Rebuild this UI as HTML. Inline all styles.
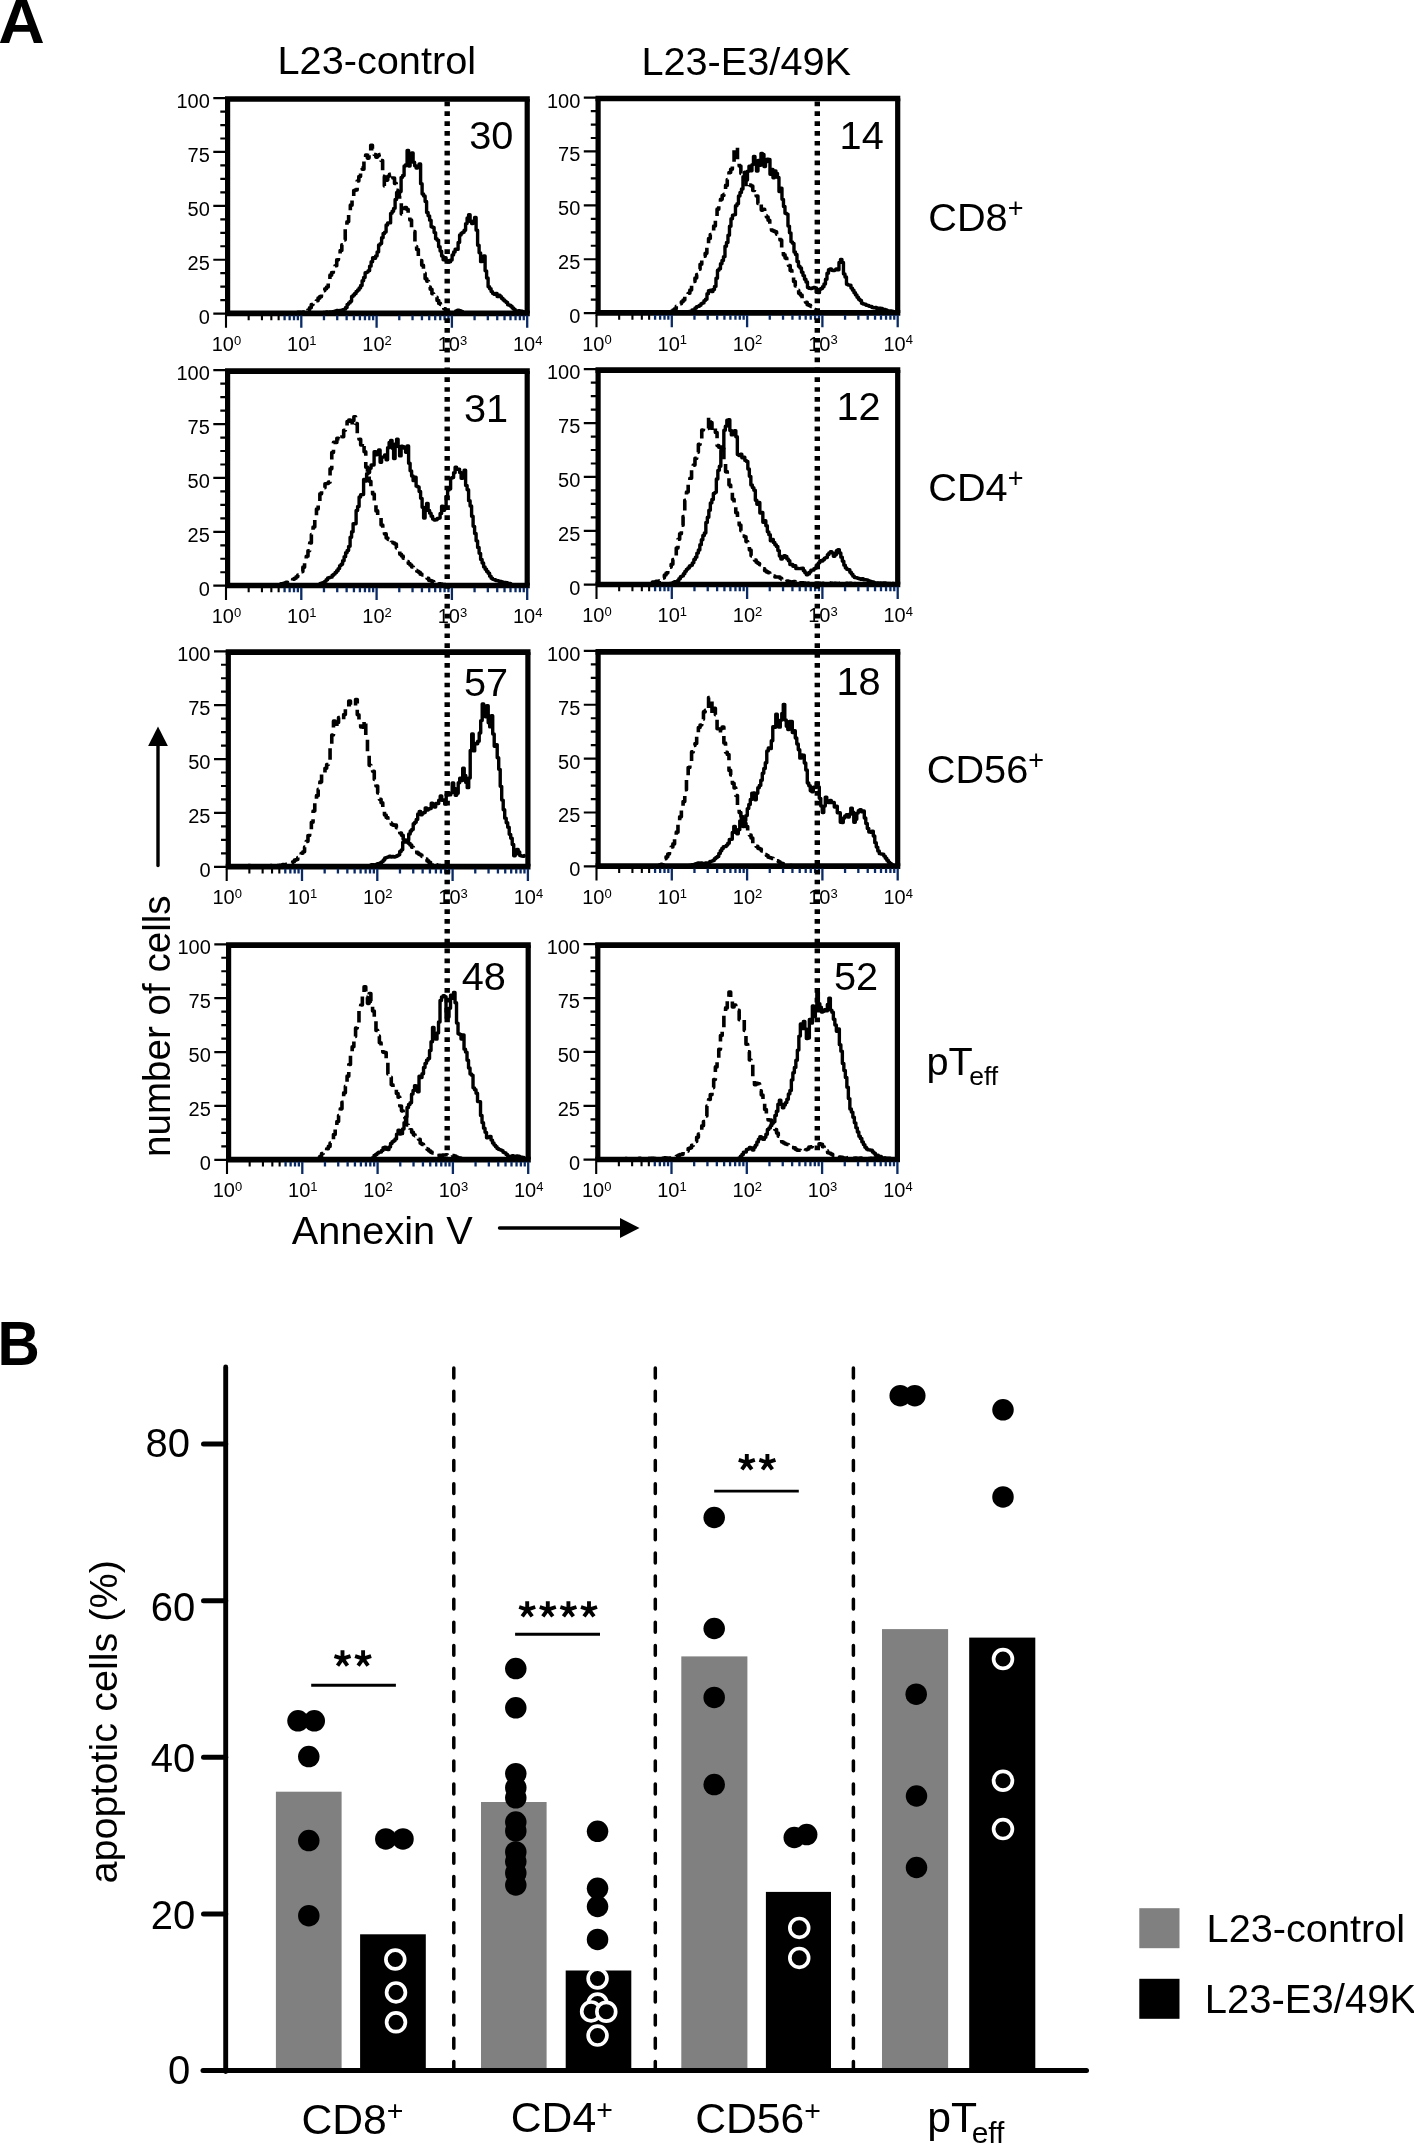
<!DOCTYPE html>
<html><head><meta charset="utf-8"><title>Figure</title>
<style>
html,body{margin:0;padding:0;background:#fff;}
body{width:1414px;height:2144px;overflow:hidden;font-family:"Liberation Sans", sans-serif;}
svg{display:block;will-change:transform;}
</style></head><body>
<svg width="1414" height="2144" viewBox="0 0 1414 2144" font-family='"Liberation Sans", sans-serif' fill="#000">
<rect width="1414" height="2144" fill="#fff"/>
<text transform="translate(-1.7,42.9) scale(1.11,1.085)" font-size="58" font-weight="bold">A</text>
<text transform="translate(-2.5,1365) scale(1.01,1.07)" font-size="58" font-weight="bold">B</text>
<text x="277.5" y="73.7" font-size="39.7">L23-control</text>
<text x="641.4" y="74.5" font-size="39.7">L23-E3/49K</text>
<path d="M225 99H529.8M225 313.4H529.8" fill="none" stroke="#000" stroke-width="5.7"/>
<path d="M227.6 99V313.4M527.2 99V313.4" fill="none" stroke="#000" stroke-width="5.2"/>
<path d="M213.3 98.1h13M220.3 111.57h6M220.3 125.04h6M220.3 138.51h6M213.3 151.97h13M220.3 165.44h6M220.3 178.91h6M220.3 192.38h6M213.3 205.85h13M220.3 219.32h6M220.3 232.79h6M220.3 246.26h6M213.3 259.73h13M220.3 273.19h6M220.3 286.66h6M220.3 300.13h6M213.3 313.6h13" stroke="#000" stroke-width="2.2" fill="none"/>
<text x="209.8" y="108" font-size="20" text-anchor="end">100</text>
<text x="209.8" y="161.88" font-size="20" text-anchor="end">75</text>
<text x="209.8" y="215.75" font-size="20" text-anchor="end">50</text>
<text x="209.8" y="269.62" font-size="20" text-anchor="end">25</text>
<text x="209.8" y="323.5" font-size="20" text-anchor="end">0</text>
<path d="M226 315.6v12.2M248.67 315.6v4.6M261.93 315.6v4.6M271.34 315.6v4.6M278.63 315.6v4.6" stroke="#000" stroke-width="2.1" fill="none"/>
<path d="M284.59 315.6v4.6M289.64 315.6v4.6M294 315.6v4.6M297.85 315.6v4.6M301.3 315.6v12.2M323.97 315.6v4.6M337.23 315.6v4.6M346.64 315.6v4.6M353.93 315.6v4.6M359.89 315.6v4.6M364.94 315.6v4.6M369.3 315.6v4.6M373.15 315.6v4.6M376.6 315.6v12.2M399.27 315.6v4.6M412.53 315.6v4.6M421.94 315.6v4.6M429.23 315.6v4.6M435.19 315.6v4.6M440.24 315.6v4.6M444.6 315.6v4.6M448.45 315.6v4.6M451.9 315.6v12.2M474.57 315.6v4.6M487.83 315.6v4.6M497.24 315.6v4.6M504.53 315.6v4.6M510.49 315.6v4.6M515.54 315.6v4.6M519.9 315.6v4.6M523.75 315.6v4.6M527.2 315.6v12.2" stroke="#0a2a66" stroke-width="2.3" fill="none"/>
<text x="226.5" y="351.1" font-size="20" text-anchor="middle">10<tspan font-size="13" dy="-6.3">0</tspan></text>
<text x="301.8" y="351.1" font-size="20" text-anchor="middle">10<tspan font-size="13" dy="-6.3">1</tspan></text>
<text x="377.1" y="351.1" font-size="20" text-anchor="middle">10<tspan font-size="13" dy="-6.3">2</tspan></text>
<text x="452.4" y="351.1" font-size="20" text-anchor="middle">10<tspan font-size="13" dy="-6.3">3</tspan></text>
<text x="527.7" y="351.1" font-size="20" text-anchor="middle">10<tspan font-size="13" dy="-6.3">4</tspan></text>
<path d="M278.93 313.4H280.63V313.25H282.33V313.38H284.03V313.4H285.73V313.06H287.43V313.19H289.13V313.14H290.83V312.76H292.53V312.52H294.23V312.8H295.93V312.9H297.63V312.35H299.33V312.32H301.03V312.73H302.73V312.03H304.43V311.92H306.13V312.61H307.83V309.94H309.53V307.68H311.23V304.63H312.93V303.43H314.63V302.59H316.33V300.8H318.03V298.15H319.73V296.65H321.43V294.2H323.13V290.61H324.83V288.82H326.53V286.95H328.23V280.14H329.93V275.16H331.63V272.5H333.33V268.04H335.03V265.77H336.73V259.83H338.43V255.35H340.13V250.43H341.83V244.7H343.53V239.87H345.23V228.11H346.93V221.68H348.63V211.94H350.33V205.14H352.03V197.27H353.73V190.55H355.43V189.89H357.13V180.99H358.83V176.43H360.53V167.96H362.23V169.23H363.93V159.97H365.63V155H367.33V158.12H369.03V155.35H370.73V145.24H372.43V148.76H374.13V154.54H375.83V157.08H377.53V155.59H379.23V154.6H380.93V160.44H382.63V176.3H384.33V185.99H386.03V180.09H387.73V176.25H389.43V174.39H391.13V173.12H392.83V177.95H394.53V183.38H396.23V190.37H397.93V196.36H399.63V201.54H401.33V213.95H403.03V211.11H404.73V207.45H406.43V209.25H408.13V215.27H409.83V219.96H411.53V228.97H413.23V231.45H414.93V246.48H416.63V249.54H418.33V256.32H420.03V260.47H421.73V265.22H423.43V273.31H425.13V278.78H426.83V281.25H428.53V287.01H430.23V289.27H431.93V293.82H433.63V295.41H435.33V297.34H437.03V300.57H438.73V303.41H440.43V304.53H442.13V306.63H443.83V308.84H445.53V310.19H447.23V311.73H448.93V313.09H450.63V312.85H452.33V312.49H454.03V312.17H455.73V311.13H457.43V310.38H459.13V310.76H460.83V311.44H462.53V312.72H464.23V313.4H465.93V313.4H467.63V313.4H469.33V313.4H471.03V313.4H472.73V313.4H474.43V313.4H476.13V313.4H477.83V313.4H479.53V313.37H481.23V313.34H482.93V313.38H484.63V313.4H486.33V313.12H488.03V313.4H489.73V313.4H491.43V313.4H493.13V313.4H494.83V313.4H496.53V313.4H498.23V313.4H499.93V313.4H501.63V313.04H503.33V313.4H505.03V313.4H506.73V313.4H508.43V313.4H510.13V313.4H511.83V313.4H513.53V313.4H515.23V313.4H516.93V313.4H518.63V313.4H520.33V313.4H522.03V313.4H523.73V313.4" fill="none" stroke="#000" stroke-width="3.6" stroke-linejoin="round" stroke-dasharray="11.5 6.3"/>
<path d="M315.6 313.4H317.1V313.4H318.6V313.4H320.1V312.72H321.6V312.87H323.1V312.4H324.6V312.57H326.1V311.92H327.6V312.31H329.1V311.97H330.6V312.26H332.1V311.58H333.6V311.42H335.1V310.84H336.6V310.52H338.1V311.02H339.6V310.34H341.1V310.26H342.6V309.64H344.1V309.17H345.6V307.52H347.1V304.36H348.6V302.88H350.1V301.34H351.6V296.41H353.1V294.93H354.6V293.45H356.1V291.36H357.6V290.03H359.1V287.88H360.6V285.44H362.1V280.77H363.6V277.47H365.1V272.73H366.6V272.11H368.1V270.66H369.6V266.15H371.1V261.69H372.6V257.63H374.1V258.19H375.6V255.92H377.1V251.9H378.6V244.97H380.1V243.6H381.6V237.78H383.1V233.55H384.6V232.09H386.1V224.96H387.6V222.88H389.1V222.92H390.6V213.33H392.1V211.24H393.6V208.36H395.1V199.52H396.6V192.41H398.1V194.07H399.6V191.55H401.1V177.37H402.6V175.53H404.1V166.02H405.6V164.59H407.1V150.53H408.6V166.11H410.1V156.06H411.6V152.95H413.1V162.21H414.6V165.76H416.1V167.93H417.6V166.43H419.1V163.93H420.6V183.67H422.1V194.01H423.6V195.93H425.1V201.55H426.6V212.5H428.1V215.86H429.6V220.17H431.1V226.76H432.6V227.38H434.1V232.61H435.6V238.82H437.1V240.32H438.6V246.69H440.1V251.08H441.6V255.96H443.1V259.78H444.6V257.82H446.1V260.98H447.6V262.13H449.1V261.72H450.6V260.03H452.1V254.92H453.6V252.02H455.1V249.14H456.6V249.42H458.1V242.4H459.6V234.96H461.1V233.1H462.6V232.28H464.1V230.19H465.6V223.61H467.1V218.02H468.6V214.72H470.1V221.51H471.6V223.49H473.1V221.06H474.6V217.39H476.1V230.17H477.6V245.26H479.1V252.87H480.6V261.66H482.1V260.36H483.6V255.95H485.1V270.83H486.6V277.96H488.1V286.81H489.6V288.82H491.1V291.59H492.6V293.4H494.1V294.38H495.6V293.51H497.1V296.62H498.6V295.31H500.1V296.79H501.6V298.43H503.1V300.07H504.6V301.17H506.1V302.43H507.6V304.72H509.1V305.24H510.6V306.2H512.1V308.04H513.6V309.21H515.1V310.92H516.6V310.87H518.1V310.7H519.6V310.98H521.1V311.28H522.6V311.72H524.1V311.88" fill="none" stroke="#000" stroke-width="3.4" stroke-linejoin="round" stroke-linecap="round"/>
<text x="469.3" y="148.5" font-size="39.7">30</text>
<path d="M595.5 98.5H900.3M595.5 312.9H900.3" fill="none" stroke="#000" stroke-width="5.7"/>
<path d="M598.1 98.5V312.9M897.7 98.5V312.9" fill="none" stroke="#000" stroke-width="5.2"/>
<path d="M583.8 97.6h13M590.8 111.07h6M590.8 124.54h6M590.8 138.01h6M583.8 151.47h13M590.8 164.94h6M590.8 178.41h6M590.8 191.88h6M583.8 205.35h13M590.8 218.82h6M590.8 232.29h6M590.8 245.76h6M583.8 259.23h13M590.8 272.69h6M590.8 286.16h6M590.8 299.63h6M583.8 313.1h13" stroke="#000" stroke-width="2.2" fill="none"/>
<text x="580.3" y="107.5" font-size="20" text-anchor="end">100</text>
<text x="580.3" y="161.38" font-size="20" text-anchor="end">75</text>
<text x="580.3" y="215.25" font-size="20" text-anchor="end">50</text>
<text x="580.3" y="269.12" font-size="20" text-anchor="end">25</text>
<text x="580.3" y="323" font-size="20" text-anchor="end">0</text>
<path d="M596.5 315.1v12.2M619.17 315.1v4.6M632.43 315.1v4.6M641.84 315.1v4.6M649.13 315.1v4.6" stroke="#000" stroke-width="2.1" fill="none"/>
<path d="M655.09 315.1v4.6M660.14 315.1v4.6M664.5 315.1v4.6M668.35 315.1v4.6M671.8 315.1v12.2M694.47 315.1v4.6M707.73 315.1v4.6M717.14 315.1v4.6M724.43 315.1v4.6M730.39 315.1v4.6M735.44 315.1v4.6M739.8 315.1v4.6M743.65 315.1v4.6M747.1 315.1v12.2M769.77 315.1v4.6M783.03 315.1v4.6M792.44 315.1v4.6M799.73 315.1v4.6M805.69 315.1v4.6M810.74 315.1v4.6M815.1 315.1v4.6M818.95 315.1v4.6M822.4 315.1v12.2M845.07 315.1v4.6M858.33 315.1v4.6M867.74 315.1v4.6M875.03 315.1v4.6M880.99 315.1v4.6M886.04 315.1v4.6M890.4 315.1v4.6M894.25 315.1v4.6M897.7 315.1v12.2" stroke="#0a2a66" stroke-width="2.3" fill="none"/>
<text x="597" y="350.6" font-size="20" text-anchor="middle">10<tspan font-size="13" dy="-6.3">0</tspan></text>
<text x="672.3" y="350.6" font-size="20" text-anchor="middle">10<tspan font-size="13" dy="-6.3">1</tspan></text>
<text x="747.6" y="350.6" font-size="20" text-anchor="middle">10<tspan font-size="13" dy="-6.3">2</tspan></text>
<text x="822.9" y="350.6" font-size="20" text-anchor="middle">10<tspan font-size="13" dy="-6.3">3</tspan></text>
<text x="898.2" y="350.6" font-size="20" text-anchor="middle">10<tspan font-size="13" dy="-6.3">4</tspan></text>
<path d="M601.47 312.9H603.17V312.9H604.87V312.9H606.57V312.9H608.27V312.83H609.97V312.9H611.67V312.84H613.37V312.74H615.07V312.9H616.77V312.9H618.47V312.9H620.17V312.87H621.87V312.9H623.57V312.9H625.27V312.72H626.97V312.9H628.67V312.9H630.37V312.9H632.07V312.9H633.77V312.9H635.47V312.9H637.17V312.9H638.87V312.9H640.57V312.9H642.27V312.9H643.97V312.9H645.67V312.9H647.37V312.9H649.07V312.83H650.77V312.9H652.47V312.9H654.17V312.9H655.87V312.9H657.57V312.9H659.27V312.9H660.97V312.9H662.67V312.9H664.37V312.83H666.07V312.9H667.77V312.9H669.47V312.9H671.17V311.23H672.87V310.16H674.57V308.87H676.27V306.27H677.97V304.27H679.67V303.79H681.37V301.79H683.07V300H684.77V296.81H686.47V294.94H688.17V293.28H689.87V290.05H691.57V284.99H693.27V281.44H694.97V278.06H696.67V274.43H698.37V269.28H700.07V264.32H701.77V257.94H703.47V256.16H705.17V253.37H706.87V246.66H708.57V238.55H710.27V234.45H711.97V233.12H713.67V226.07H715.37V219.34H717.07V209.15H718.77V204.92H720.47V199.34H722.17V195.57H723.87V194.22H725.57V185.41H727.27V179.5H728.97V172.53H730.67V169.21H732.37V166.02H734.07V147.6H735.77V147.66H737.47V160.63H739.17V165.94H740.87V173.55H742.57V173.85H744.27V173.92H745.97V187.22H747.67V184.94H749.37V185.01H751.07V186.05H752.77V190.56H754.47V189.96H756.17V196.06H757.87V203.57H759.57V202.24H761.27V210.11H762.97V209.32H764.67V215.66H766.37V217.01H768.07V220.31H769.77V224.19H771.47V230.33H773.17V231.12H774.87V231.86H776.57V234.13H778.27V234.68H779.97V240.04H781.67V247.78H783.37V254.89H785.07V258.08H786.77V262.52H788.47V265.48H790.17V270.42H791.87V277.23H793.57V281.44H795.27V285.98H796.97V290.34H798.67V293.33H800.37V295.1H802.07V299.07H803.77V299.79H805.47V302.21H807.17V304.66H808.87V305.4H810.57V306.36H812.27V308.03H813.97V309.47H815.67V310.67H817.37V311.2H819.07V312.44H820.77V312.9H822.47V312.9H824.17V312.9H825.87V312.9H827.57V312.9H829.27V312.9H830.97V312.9H832.67V312.9H834.37V312.83H836.07V312.9H837.77V312.9H839.47V312.9H841.17V312.9H842.87V312.9H844.57V312.9H846.27V312.9H847.97V312.9H849.67V312.9H851.37V312.9H853.07V312.74H854.77V312.82H856.47V312.9H858.17V312.9H859.87V312.9H861.57V312.9H863.27V312.9H864.97V312.9H866.67V312.9H868.37V312.82H870.07V312.9H871.77V312.9H873.47V312.9H875.17V312.81H876.87V312.9H878.57V312.9H880.27V312.84H881.97V312.9H883.67V312.9H885.37V312.9H887.07V312.9H888.77V312.9H890.47V312.9H892.17V312.9H893.87V312.9" fill="none" stroke="#000" stroke-width="3.6" stroke-linejoin="round" stroke-dasharray="11.5 6.3"/>
<path d="M676.97 312.9H678.47V312.9H679.97V312.9H681.47V312.9H682.97V312.74H684.47V312.9H685.97V312.62H687.47V312.5H688.97V311.45H690.47V311.14H691.97V310.01H693.47V309.84H694.97V308.07H696.47V306.64H697.97V306.22H699.47V305.25H700.97V303.61H702.47V302.88H703.97V300.6H705.47V299.3H706.97V293.64H708.47V290.6H709.97V290.18H711.47V291.57H712.97V289.52H714.47V286.41H715.97V278.3H717.47V270.32H718.97V268.68H720.47V263.73H721.97V260.56H723.47V256.66H724.97V246.27H726.47V242.5H727.97V235.26H729.47V226.28H730.97V218.71H732.47V215.16H733.97V214.63H735.47V205.78H736.97V203.74H738.47V196.01H739.97V192.51H741.47V188.99H742.97V176.7H744.47V172.09H745.97V179.99H747.47V171.29H748.97V166.29H750.47V170.69H751.97V164.61H753.47V156.42H754.97V162.15H756.47V171.04H757.97V160.55H759.47V165.28H760.97V153.37H762.47V154.43H763.97V166.58H765.47V161.68H766.97V159.26H768.47V159.4H769.97V174.24H771.47V169.54H772.97V177.87H774.47V170.88H775.97V173.37H777.47V177.46H778.97V191.48H780.47V188.25H781.97V199.37H783.47V206.55H784.97V213.23H786.47V214.08H787.97V226.1H789.47V232.86H790.97V241.87H792.47V243.36H793.97V252.03H795.47V254.52H796.97V261.56H798.47V266.29H799.97V267.94H801.47V272.26H802.97V275.59H804.47V279.19H805.97V282.07H807.47V287.55H808.97V288.4H810.47V288.5H811.97V287.93H813.47V287.52H814.97V287.87H816.47V292.4H817.97V292.66H819.47V289.21H820.97V288.53H822.47V286.74H823.97V283.97H825.47V279.25H826.97V273.31H828.47V269.71H829.97V268.94H831.47V270.24H832.97V270.63H834.47V269.88H835.97V268.98H837.47V269.71H838.97V262.42H840.47V259.48H841.97V262.57H843.47V273.89H844.97V276.96H846.47V284.26H847.97V285.08H849.47V285.27H850.97V288.12H852.47V290.14H853.97V292.74H855.47V294.91H856.97V297.32H858.47V299.26H859.97V300.49H861.47V303.29H862.97V304.05H864.47V304.32H865.97V305.24H867.47V305.53H868.97V306.34H870.47V306.44H871.97V307.48H873.47V307.75H874.97V307.42H876.47V308.43H877.97V308.16H879.47V308.18H880.97V308.45H882.47V309.33H883.97V309.53H885.47V310.02H886.97V311.25H888.47V310.98H889.97V311.03H891.47V311.12H892.97V311.69H894.47V311.99" fill="none" stroke="#000" stroke-width="3.4" stroke-linejoin="round" stroke-linecap="round"/>
<text x="839.6" y="148.5" font-size="39.7">14</text>
<path d="M225 371.1H529.8M225 585.5H529.8" fill="none" stroke="#000" stroke-width="5.7"/>
<path d="M227.6 371.1V585.5M527.2 371.1V585.5" fill="none" stroke="#000" stroke-width="5.2"/>
<path d="M213.3 370.2h13M220.3 383.67h6M220.3 397.14h6M220.3 410.61h6M213.3 424.07h13M220.3 437.54h6M220.3 451.01h6M220.3 464.48h6M213.3 477.95h13M220.3 491.42h6M220.3 504.89h6M220.3 518.36h6M213.3 531.83h13M220.3 545.29h6M220.3 558.76h6M220.3 572.23h6M213.3 585.7h13" stroke="#000" stroke-width="2.2" fill="none"/>
<text x="209.8" y="380.1" font-size="20" text-anchor="end">100</text>
<text x="209.8" y="433.97" font-size="20" text-anchor="end">75</text>
<text x="209.8" y="487.85" font-size="20" text-anchor="end">50</text>
<text x="209.8" y="541.73" font-size="20" text-anchor="end">25</text>
<text x="209.8" y="595.6" font-size="20" text-anchor="end">0</text>
<path d="M226 587.7v12.2M248.67 587.7v4.6M261.93 587.7v4.6M271.34 587.7v4.6M278.63 587.7v4.6" stroke="#000" stroke-width="2.1" fill="none"/>
<path d="M284.59 587.7v4.6M289.64 587.7v4.6M294 587.7v4.6M297.85 587.7v4.6M301.3 587.7v12.2M323.97 587.7v4.6M337.23 587.7v4.6M346.64 587.7v4.6M353.93 587.7v4.6M359.89 587.7v4.6M364.94 587.7v4.6M369.3 587.7v4.6M373.15 587.7v4.6M376.6 587.7v12.2M399.27 587.7v4.6M412.53 587.7v4.6M421.94 587.7v4.6M429.23 587.7v4.6M435.19 587.7v4.6M440.24 587.7v4.6M444.6 587.7v4.6M448.45 587.7v4.6M451.9 587.7v12.2M474.57 587.7v4.6M487.83 587.7v4.6M497.24 587.7v4.6M504.53 587.7v4.6M510.49 587.7v4.6M515.54 587.7v4.6M519.9 587.7v4.6M523.75 587.7v4.6M527.2 587.7v12.2" stroke="#0a2a66" stroke-width="2.3" fill="none"/>
<text x="226.5" y="623.2" font-size="20" text-anchor="middle">10<tspan font-size="13" dy="-6.3">0</tspan></text>
<text x="301.8" y="623.2" font-size="20" text-anchor="middle">10<tspan font-size="13" dy="-6.3">1</tspan></text>
<text x="377.1" y="623.2" font-size="20" text-anchor="middle">10<tspan font-size="13" dy="-6.3">2</tspan></text>
<text x="452.4" y="623.2" font-size="20" text-anchor="middle">10<tspan font-size="13" dy="-6.3">3</tspan></text>
<text x="527.7" y="623.2" font-size="20" text-anchor="middle">10<tspan font-size="13" dy="-6.3">4</tspan></text>
<path d="M231.47 585.46H233.17V585.5H234.87V585.5H236.57V585.5H238.27V585.5H239.97V585.12H241.67V585.44H243.37V585.37H245.07V585.24H246.77V585.41H248.47V585.41H250.17V585.5H251.87V585.43H253.57V585.32H255.27V585.5H256.97V584.99H258.67V585.08H260.37V585.34H262.07V585.04H263.77V584.89H265.47V584.96H267.17V584.73H268.87V585.35H270.57V585.35H272.27V585.5H273.97V584.89H275.67V584.68H277.37V584.35H279.07V584.21H280.77V583.72H282.47V583.6H284.17V582.95H285.87V582.28H287.57V582.83H289.27V581.87H290.97V581.2H292.67V579.23H294.37V578.27H296.07V576.76H297.77V575.02H299.47V573.53H301.17V571.59H302.87V567.16H304.57V562.68H306.27V556.25H307.97V550.68H309.67V542.91H311.37V534.56H313.07V527.04H314.77V516.43H316.47V509.02H318.17V502.4H319.87V493.86H321.57V490.48H323.27V487.66H324.97V483.77H326.67V483.52H328.37V482.14H330.07V468.83H331.77V452.57H333.47V442.39H335.17V442.44H336.87V438.28H338.57V438.6H340.27V435.02H341.97V436.7H343.67V430.18H345.37V426.93H347.07V421.49H348.77V420.15H350.47V426.09H352.17V420.58H353.87V416.83H355.57V423.59H357.27V436.11H358.97V439.24H360.67V444.97H362.37V442.64H364.07V451.73H365.77V467.14H367.47V473.73H369.17V481.24H370.87V490.52H372.57V494.03H374.27V502.57H375.97V510.89H377.67V515.13H379.37V517.8H381.07V525.05H382.77V531.33H384.47V533.88H386.17V538.06H387.87V539.37H389.57V542.77H391.27V542.21H392.97V543.01H394.67V544.07H396.37V547.99H398.07V549.31H399.77V554.32H401.47V556.06H403.17V558.2H404.87V560.57H406.57V561.53H408.27V563.45H409.97V564.99H411.67V567.05H413.37V568.66H415.07V570.34H416.77V571.18H418.47V572.18H420.17V574.16H421.87V574.83H423.57V576.47H425.27V577.57H426.97V578.33H428.67V580.33H430.37V580.87H432.07V581.54H433.77V582.16H435.47V583.53H437.17V584.1H438.87V583.88H440.57V584.15H442.27V584.46H443.97V584.65H445.67V585.31H447.37V585.17H449.07V585.5H450.77V585.1H452.47V585.25H454.17V585.5H455.87V585.5H457.57V585.19H459.27V585.5H460.97V585.5H462.67V585.5H464.37V585.06H466.07V585.5H467.77V585.5H469.47V585.5H471.17V585.5H472.87V585.24H474.57V585.38H476.27V585.5H477.97V585.5H479.67V585.5H481.37V585.5H483.07V585.5H484.77V585.5H486.47V585.5H488.17V585.5H489.87V585.3H491.57V585.5H493.27V585.5H494.97V585.41H496.67V585.37H498.37V585.5H500.07V585.5H501.77V585.5H503.47V585.47H505.17V585.5H506.87V585.5H508.57V585.5H510.27V585.31H511.97V585.38H513.67V585.5H515.37V585.44H517.07V585.5H518.77V585.5H520.47V585.5H522.17V585.5H523.87V585.5" fill="none" stroke="#000" stroke-width="3.6" stroke-linejoin="round" stroke-dasharray="11.5 6.3"/>
<path d="M315.6 585.5H317.1V584.94H318.6V584.49H320.1V583.53H321.6V582.83H323.1V582.45H324.6V581.36H326.1V579.71H327.6V577.98H329.1V577.49H330.6V577.15H332.1V575.3H333.6V574.08H335.1V572.4H336.6V570.82H338.1V568.58H339.6V565.62H341.1V564.24H342.6V560.68H344.1V556.65H345.6V552.75H347.1V550.47H348.6V546.37H350.1V537.32H351.6V531.75H353.1V523.61H354.6V523.75H356.1V510.46H357.6V506.49H359.1V497.07H360.6V494.64H362.1V494.46H363.6V479.51H365.1V481.04H366.6V473.82H368.1V472.5H369.6V468.28H371.1V464.91H372.6V464.93H374.1V451.7H375.6V454.7H377.1V451.71H378.6V449.93H380.1V462.24H381.6V457.19H383.1V456.84H384.6V454.99H386.1V459.82H387.6V447.68H389.1V442.47H390.6V440.54H392.1V448.36H393.6V458.62H395.1V443.94H396.6V439.23H398.1V446.64H399.6V455.9H401.1V446.18H402.6V446.82H404.1V448.18H405.6V452.23H407.1V446.06H408.6V463.22H410.1V470.83H411.6V475.96H413.1V480.67H414.6V477.15H416.1V486.15H417.6V486.88H419.1V491.5H420.6V498.37H422.1V507.32H423.6V518.01H425.1V510.61H426.6V503.54H428.1V510.41H429.6V513.15H431.1V516.29H432.6V519.11H434.1V519.94H435.6V519.87H437.1V518.53H438.6V518.11H440.1V513.55H441.6V506.18H443.1V510.18H444.6V506.49H446.1V496.46H447.6V489.98H449.1V488.92H450.6V478.14H452.1V477.44H453.6V472.74H455.1V467.3H456.6V469.25H458.1V469.19H459.6V472.48H461.1V478.37H462.6V478.07H464.1V470.2H465.6V485.41H467.1V489.77H468.6V500.64H470.1V506.01H471.6V516.21H473.1V526.33H474.6V533.43H476.1V540.86H477.6V547.49H479.1V553.34H480.6V559.4H482.1V562.99H483.6V566.92H485.1V569.28H486.6V571.49H488.1V573.18H489.6V576.15H491.1V578.18H492.6V579.33H494.1V579.79H495.6V580.44H497.1V580.73H498.6V581.32H500.1V581.45H501.6V582.05H503.1V582.38H504.6V582.49H506.1V582.8H507.6V583.54H509.1V583.35H510.6V584.56H512.1V585.27H513.6V585.08H515.1V585.41H516.6V585.24H518.1V585.14H519.6V585.04H521.1V585.48H522.6V585.5H524.1V585.19" fill="none" stroke="#000" stroke-width="3.4" stroke-linejoin="round" stroke-linecap="round"/>
<text x="463.9" y="422" font-size="39.7">31</text>
<path d="M595.5 370.1H900.3M595.5 584.5H900.3" fill="none" stroke="#000" stroke-width="5.7"/>
<path d="M598.1 370.1V584.5M897.7 370.1V584.5" fill="none" stroke="#000" stroke-width="5.2"/>
<path d="M583.8 369.2h13M590.8 382.67h6M590.8 396.14h6M590.8 409.61h6M583.8 423.07h13M590.8 436.54h6M590.8 450.01h6M590.8 463.48h6M583.8 476.95h13M590.8 490.42h6M590.8 503.89h6M590.8 517.36h6M583.8 530.83h13M590.8 544.29h6M590.8 557.76h6M590.8 571.23h6M583.8 584.7h13" stroke="#000" stroke-width="2.2" fill="none"/>
<text x="580.3" y="379.1" font-size="20" text-anchor="end">100</text>
<text x="580.3" y="432.97" font-size="20" text-anchor="end">75</text>
<text x="580.3" y="486.85" font-size="20" text-anchor="end">50</text>
<text x="580.3" y="540.73" font-size="20" text-anchor="end">25</text>
<text x="580.3" y="594.6" font-size="20" text-anchor="end">0</text>
<path d="M596.5 586.7v12.2M619.17 586.7v4.6M632.43 586.7v4.6M641.84 586.7v4.6M649.13 586.7v4.6" stroke="#000" stroke-width="2.1" fill="none"/>
<path d="M655.09 586.7v4.6M660.14 586.7v4.6M664.5 586.7v4.6M668.35 586.7v4.6M671.8 586.7v12.2M694.47 586.7v4.6M707.73 586.7v4.6M717.14 586.7v4.6M724.43 586.7v4.6M730.39 586.7v4.6M735.44 586.7v4.6M739.8 586.7v4.6M743.65 586.7v4.6M747.1 586.7v12.2M769.77 586.7v4.6M783.03 586.7v4.6M792.44 586.7v4.6M799.73 586.7v4.6M805.69 586.7v4.6M810.74 586.7v4.6M815.1 586.7v4.6M818.95 586.7v4.6M822.4 586.7v12.2M845.07 586.7v4.6M858.33 586.7v4.6M867.74 586.7v4.6M875.03 586.7v4.6M880.99 586.7v4.6M886.04 586.7v4.6M890.4 586.7v4.6M894.25 586.7v4.6M897.7 586.7v12.2" stroke="#0a2a66" stroke-width="2.3" fill="none"/>
<text x="597" y="622.2" font-size="20" text-anchor="middle">10<tspan font-size="13" dy="-6.3">0</tspan></text>
<text x="672.3" y="622.2" font-size="20" text-anchor="middle">10<tspan font-size="13" dy="-6.3">1</tspan></text>
<text x="747.6" y="622.2" font-size="20" text-anchor="middle">10<tspan font-size="13" dy="-6.3">2</tspan></text>
<text x="822.9" y="622.2" font-size="20" text-anchor="middle">10<tspan font-size="13" dy="-6.3">3</tspan></text>
<text x="898.2" y="622.2" font-size="20" text-anchor="middle">10<tspan font-size="13" dy="-6.3">4</tspan></text>
<path d="M601.47 584.39H603.17V584.5H604.87V584.5H606.57V584.5H608.27V584.37H609.97V584.5H611.67V584.5H613.37V584.5H615.07V584.3H616.77V584.25H618.47V584.5H620.17V584.5H621.87V584.5H623.57V584.5H625.27V584.4H626.97V584.33H628.67V584.5H630.37V584.26H632.07V584.11H633.77V583.99H635.47V584.27H637.17V584.26H638.87V584.1H640.57V584.14H642.27V584.2H643.97V584.28H645.67V584.16H647.37V583.59H649.07V582.71H650.77V583.05H652.47V582.12H654.17V582.13H655.87V581.41H657.57V581.5H659.27V580.92H660.97V578.93H662.67V577.86H664.37V574.95H666.07V573.04H667.77V569.36H669.47V567.1H671.17V564.27H672.87V559.61H674.57V555.66H676.27V548.08H677.97V539.19H679.67V533.77H681.37V525.28H683.07V516.56H684.77V500.3H686.47V491.99H688.17V484.12H689.87V478.3H691.57V467.56H693.27V465.12H694.97V458.39H696.67V452.24H698.37V444.38H700.07V439.91H701.77V430.02H703.47V427.71H705.17V428.09H706.87V428.51H708.57V416.64H710.27V422.66H711.97V430.45H713.67V428.21H715.37V432.55H717.07V445.61H718.77V447.32H720.47V448.03H722.17V444.22H723.87V460.45H725.57V471.65H727.27V477.36H728.97V485.05H730.67V492.44H732.37V499.2H734.07V505.23H735.77V512.76H737.47V520.66H739.17V525.02H740.87V530.81H742.57V535.93H744.27V536.82H745.97V541.58H747.67V546.53H749.37V549.97H751.07V555.84H752.77V558.71H754.47V560.17H756.17V562.19H757.87V563.53H759.57V564.7H761.27V566.81H762.97V568.74H764.67V570.77H766.37V571.91H768.07V572.69H769.77V574.27H771.47V574.49H773.17V576.15H774.87V577.04H776.57V577.05H778.27V577.04H779.97V578.22H781.67V579.49H783.37V580.47H785.07V581.56H786.77V581.01H788.47V581.53H790.17V581.93H791.87V581.9H793.57V581.49H795.27V582.6H796.97V583.23H798.67V583.08H800.37V582.71H802.07V582.87H803.77V583.06H805.47V583.7H807.17V583.21H808.87V583.09H810.57V583.51H812.27V583.08H813.97V583.63H815.67V582.96H817.37V583.03H819.07V583.38H820.77V583.59H822.47V583.4H824.17V583.33H825.87V582.77H827.57V583.09H829.27V583.14H830.97V583.18H832.67V583.5H834.37V583.28H836.07V583.6H837.77V583.43H839.47V583.34H841.17V583.48H842.87V583.58H844.57V583.72H846.27V583.38H847.97V583.47H849.67V583.19H851.37V584H853.07V583.98H854.77V583.56H856.47V583.5H858.17V583.32H859.87V583.72H861.57V583.75H863.27V584.29H864.97V583.8H866.67V583.55H868.37V583.13H870.07V584.16H871.77V583.86H873.47V583.41H875.17V583.9H876.87V583.45H878.57V584.5H880.27V584.21H881.97V584.08H883.67V583.91H885.37V583.42H887.07V583.96H888.77V583.61H890.47V584.19H892.17V583.5H893.87V583.84" fill="none" stroke="#000" stroke-width="3.6" stroke-linejoin="round" stroke-dasharray="11.5 6.3"/>
<path d="M668.34 584.17H669.84V583.39H671.34V583.35H672.84V582.39H674.34V581.64H675.84V581.74H677.34V580.66H678.84V578.68H680.34V576.65H681.84V575.89H683.34V573.69H684.84V571.33H686.34V569.37H687.84V568.01H689.34V566.06H690.84V565.22H692.34V562.86H693.84V559.45H695.34V557.17H696.84V553.09H698.34V550.07H699.84V544.64H701.34V539.82H702.84V535.56H704.34V532.96H705.84V522.43H707.34V517.18H708.84V510.18H710.34V502.88H711.84V499.49H713.34V493.39H714.84V492.35H716.34V479.06H717.84V470.37H719.34V466.2H720.84V450.43H722.34V448.16H723.84V430.18H725.34V426.14H726.84V420.13H728.34V419.72H729.84V430.57H731.34V434.88H732.84V431.27H734.34V430.58H735.84V436.8H737.34V454.44H738.84V455.48H740.34V454.28H741.84V457.85H743.34V457.2H744.84V460.41H746.34V461.41H747.84V469.02H749.34V476.33H750.84V484.95H752.34V487.58H753.84V490.2H755.34V500.22H756.84V504.2H758.34V502.46H759.84V512.96H761.34V512.43H762.84V522.26H764.34V520.73H765.84V525.7H767.34V531.86H768.84V534.65H770.34V540.69H771.84V539.57H773.34V542.46H774.84V544.76H776.34V546.44H777.84V550.58H779.34V556.1H780.84V559.09H782.34V557.55H783.84V555.76H785.34V556.34H786.84V558.89H788.34V560.81H789.84V564.44H791.34V564.39H792.84V566.28H794.34V565.82H795.84V568.63H797.34V568.36H798.84V568.67H800.34V568.47H801.84V568.16H803.34V570.73H804.84V572.8H806.34V574.8H807.84V573.89H809.34V572.1H810.84V570.25H812.34V570.16H813.84V568.78H815.34V567.91H816.84V564.73H818.34V562.86H819.84V560.62H821.34V561.04H822.84V559.77H824.34V558.09H825.84V557.44H827.34V554.65H828.84V552.94H830.34V551.61H831.84V552.87H833.34V556.33H834.84V554.78H836.34V550.77H837.84V549.6H839.34V552.98H840.84V557.14H842.34V561.17H843.84V565.16H845.34V567.89H846.84V569.38H848.34V569.81H849.84V572.32H851.34V574.11H852.84V576.13H854.34V577.58H855.84V577.69H857.34V578.22H858.84V578.82H860.34V579.25H861.84V578.76H863.34V579.71H864.84V579.68H866.34V579.85H867.84V580.6H869.34V581.2H870.84V581.76H872.34V581.99H873.84V582.61H875.34V583.12H876.84V583.05H878.34V583.38H879.84V582.91H881.34V583.3H882.84V583.02H884.34V582.89H885.84V583.63H887.34V583.53H888.84V583.92H890.34V583.8H891.84V584.02H893.34V584.21" fill="none" stroke="#000" stroke-width="3.4" stroke-linejoin="round" stroke-linecap="round"/>
<text x="836.4" y="420" font-size="39.7">12</text>
<path d="M225.7 652.2H530.5M225.7 866.6H530.5" fill="none" stroke="#000" stroke-width="5.7"/>
<path d="M228.3 652.2V866.6M527.9 652.2V866.6" fill="none" stroke="#000" stroke-width="5.2"/>
<path d="M214 651.3h13M221 664.77h6M221 678.24h6M221 691.71h6M214 705.17h13M221 718.64h6M221 732.11h6M221 745.58h6M214 759.05h13M221 772.52h6M221 785.99h6M221 799.46h6M214 812.92h13M221 826.39h6M221 839.86h6M221 853.33h6M214 866.8h13" stroke="#000" stroke-width="2.2" fill="none"/>
<text x="210.5" y="661.2" font-size="20" text-anchor="end">100</text>
<text x="210.5" y="715.07" font-size="20" text-anchor="end">75</text>
<text x="210.5" y="768.95" font-size="20" text-anchor="end">50</text>
<text x="210.5" y="822.82" font-size="20" text-anchor="end">25</text>
<text x="210.5" y="876.7" font-size="20" text-anchor="end">0</text>
<path d="M226.7 868.8v12.2M249.37 868.8v4.6M262.63 868.8v4.6M272.04 868.8v4.6M279.33 868.8v4.6" stroke="#000" stroke-width="2.1" fill="none"/>
<path d="M285.29 868.8v4.6M290.34 868.8v4.6M294.7 868.8v4.6M298.55 868.8v4.6M302 868.8v12.2M324.67 868.8v4.6M337.93 868.8v4.6M347.34 868.8v4.6M354.63 868.8v4.6M360.59 868.8v4.6M365.64 868.8v4.6M370 868.8v4.6M373.85 868.8v4.6M377.3 868.8v12.2M399.97 868.8v4.6M413.23 868.8v4.6M422.64 868.8v4.6M429.93 868.8v4.6M435.89 868.8v4.6M440.94 868.8v4.6M445.3 868.8v4.6M449.15 868.8v4.6M452.6 868.8v12.2M475.27 868.8v4.6M488.53 868.8v4.6M497.94 868.8v4.6M505.23 868.8v4.6M511.19 868.8v4.6M516.24 868.8v4.6M520.6 868.8v4.6M524.45 868.8v4.6M527.9 868.8v12.2" stroke="#0a2a66" stroke-width="2.3" fill="none"/>
<text x="227.2" y="904.3" font-size="20" text-anchor="middle">10<tspan font-size="13" dy="-6.3">0</tspan></text>
<text x="302.5" y="904.3" font-size="20" text-anchor="middle">10<tspan font-size="13" dy="-6.3">1</tspan></text>
<text x="377.8" y="904.3" font-size="20" text-anchor="middle">10<tspan font-size="13" dy="-6.3">2</tspan></text>
<text x="453.1" y="904.3" font-size="20" text-anchor="middle">10<tspan font-size="13" dy="-6.3">3</tspan></text>
<text x="528.4" y="904.3" font-size="20" text-anchor="middle">10<tspan font-size="13" dy="-6.3">4</tspan></text>
<path d="M231.47 866.6H233.17V866.39H234.87V866.6H236.57V865.99H238.27V866.49H239.97V866.6H241.67V866.6H243.37V866.13H245.07V866.25H246.77V866.29H248.47V865.64H250.17V866.6H251.87V866.45H253.57V866.38H255.27V866.48H256.97V866.1H258.67V866.21H260.37V866.34H262.07V866.29H263.77V865.94H265.47V865.71H267.17V866.17H268.87V866.08H270.57V865.66H272.27V866.22H273.97V866.05H275.67V865.83H277.37V865.49H279.07V865.36H280.77V865.35H282.47V864.61H284.17V864.87H285.87V864.26H287.57V864.06H289.27V864.13H290.97V862.8H292.67V861.68H294.37V860.16H296.07V859.44H297.77V857.6H299.47V855.34H301.17V853.28H302.87V851.68H304.57V847.15H306.27V841.36H307.97V835.52H309.67V829.79H311.37V822.23H313.07V810.96H314.77V801.7H316.47V795.67H318.17V789.38H319.87V781.9H321.57V773.4H323.27V773.86H324.97V768.32H326.67V764.51H328.37V762.29H330.07V746.41H331.77V735.06H333.47V721.17H335.17V727.63H336.87V722.53H338.57V717.56H340.27V718.08H341.97V719.58H343.67V714.62H345.37V708.81H347.07V706.93H348.77V700.97H350.47V704.66H352.17V705.97H353.87V705.67H355.57V699.56H357.27V714.77H358.97V722.16H360.67V726.92H362.37V727.09H364.07V720.44H365.77V739.02H367.47V755.73H369.17V765.33H370.87V766.72H372.57V771.23H374.27V779.5H375.97V786.05H377.67V793.06H379.37V799.35H381.07V802.72H382.77V810.26H384.47V815.05H386.17V817.49H387.87V821.09H389.57V822.84H391.27V824.37H392.97V825.22H394.67V825.15H396.37V827.77H398.07V830.13H399.77V833.01H401.47V835.21H403.17V839.25H404.87V841.32H406.57V841.44H408.27V843.32H409.97V844.96H411.67V847.27H413.37V849.68H415.07V850.22H416.77V852.88H418.47V854.11H420.17V855.03H421.87V856.38H423.57V858.14H425.27V859.13H426.97V860.91H428.67V862.35H430.37V863.74H432.07V863.26H433.77V865H435.47V864.72H437.17V865.88H438.87V865.6H440.57V865.89H442.27V865.85H443.97V866.08H445.67V866.6H447.37V866.26H449.07V866.05H450.77V866.53H452.47V866H454.17V866.44H455.87V866.6H457.57V866.48H459.27V866.5H460.97V866.6H462.67V866.6H464.37V866.6H466.07V866.6H467.77V866.6H469.47V866.44H471.17V866.46H472.87V866.36H474.57V866.43H476.27V866.5H477.97V866.6H479.67V866.6H481.37V866.6H483.07V866.6H484.77V866.46H486.47V866.6H488.17V866.43H489.87V866.6H491.57V866.6H493.27V866.6H494.97V866.58H496.67V866.6H498.37V866.47H500.07V866.6H501.77V866.42H503.47V866.6H505.17V866.6H506.87V866.6H508.57V866.6H510.27V866.6H511.97V866.6H513.67V866.6H515.37V866.58H517.07V866.6H518.77V866.6H520.47V866.6H522.17V866.6H523.87V866.6" fill="none" stroke="#000" stroke-width="3.6" stroke-linejoin="round" stroke-dasharray="11.5 6.3"/>
<path d="M365.21 866.47H366.71V866.29H368.21V866.34H369.71V865.53H371.21V864.74H372.71V864.62H374.21V865.08H375.71V864.5H377.21V863.8H378.71V863.57H380.21V862.64H381.71V861.59H383.21V860H384.71V858.01H386.21V857.42H387.71V857H389.21V856.14H390.71V856.93H392.21V856.39H393.71V856.99H395.21V856.51H396.71V855.74H398.21V854.84H399.71V851.57H401.21V849.85H402.71V842.19H404.21V839.99H405.71V842.07H407.21V839.89H408.71V833.98H410.21V830.96H411.71V829.39H413.21V823.7H414.71V822.27H416.21V819.38H417.71V813.91H419.21V811.49H420.71V814.76H422.21V813.16H423.71V812.53H425.21V807.83H426.71V809.98H428.21V809.06H429.71V808.44H431.21V803.26H432.71V806.26H434.21V807.09H435.71V803.36H437.21V803.44H438.71V800.26H440.21V795.95H441.71V800.29H443.21V800.02H444.71V804.16H446.21V794.48H447.71V794.96H449.21V794.9H450.71V792.86H452.21V783.06H453.71V788.43H455.21V795.31H456.71V793.2H458.21V782.68H459.71V778.31H461.21V780.6H462.71V768.15H464.21V775.36H465.71V782.39H467.21V787.64H468.71V778.02H470.21V750.44H471.71V734.01H473.21V750.9H474.71V743.34H476.21V743.76H477.71V741.23H479.21V732.94H480.71V720.59H482.21V703.99H483.71V709.48H485.21V716.84H486.71V705.66H488.21V722.71H489.71V726.88H491.21V715.7H492.71V734.03H494.21V746.28H495.71V744.58H497.21V757.7H498.71V769.37H500.21V786.34H501.71V800.12H503.21V809.73H504.71V818.14H506.21V822.72H507.71V827.31H509.21V834.37H510.71V838.3H512.21V844.53H513.71V855.77H515.21V853.94H516.71V849.39H518.21V851.91H519.71V855.47H521.21V856.08H522.71V856.32H524.21V855.46" fill="none" stroke="#000" stroke-width="3.4" stroke-linejoin="round" stroke-linecap="round"/>
<text x="463.9" y="695.5" font-size="39.7">57</text>
<path d="M595.5 651.8H900.3M595.5 866.2H900.3" fill="none" stroke="#000" stroke-width="5.7"/>
<path d="M598.1 651.8V866.2M897.7 651.8V866.2" fill="none" stroke="#000" stroke-width="5.2"/>
<path d="M583.8 650.9h13M590.8 664.37h6M590.8 677.84h6M590.8 691.31h6M583.8 704.77h13M590.8 718.24h6M590.8 731.71h6M590.8 745.18h6M583.8 758.65h13M590.8 772.12h6M590.8 785.59h6M590.8 799.06h6M583.8 812.52h13M590.8 825.99h6M590.8 839.46h6M590.8 852.93h6M583.8 866.4h13" stroke="#000" stroke-width="2.2" fill="none"/>
<text x="580.3" y="660.8" font-size="20" text-anchor="end">100</text>
<text x="580.3" y="714.67" font-size="20" text-anchor="end">75</text>
<text x="580.3" y="768.55" font-size="20" text-anchor="end">50</text>
<text x="580.3" y="822.42" font-size="20" text-anchor="end">25</text>
<text x="580.3" y="876.3" font-size="20" text-anchor="end">0</text>
<path d="M596.5 868.4v12.2M619.17 868.4v4.6M632.43 868.4v4.6M641.84 868.4v4.6M649.13 868.4v4.6" stroke="#000" stroke-width="2.1" fill="none"/>
<path d="M655.09 868.4v4.6M660.14 868.4v4.6M664.5 868.4v4.6M668.35 868.4v4.6M671.8 868.4v12.2M694.47 868.4v4.6M707.73 868.4v4.6M717.14 868.4v4.6M724.43 868.4v4.6M730.39 868.4v4.6M735.44 868.4v4.6M739.8 868.4v4.6M743.65 868.4v4.6M747.1 868.4v12.2M769.77 868.4v4.6M783.03 868.4v4.6M792.44 868.4v4.6M799.73 868.4v4.6M805.69 868.4v4.6M810.74 868.4v4.6M815.1 868.4v4.6M818.95 868.4v4.6M822.4 868.4v12.2M845.07 868.4v4.6M858.33 868.4v4.6M867.74 868.4v4.6M875.03 868.4v4.6M880.99 868.4v4.6M886.04 868.4v4.6M890.4 868.4v4.6M894.25 868.4v4.6M897.7 868.4v12.2" stroke="#0a2a66" stroke-width="2.3" fill="none"/>
<text x="597" y="903.9" font-size="20" text-anchor="middle">10<tspan font-size="13" dy="-6.3">0</tspan></text>
<text x="672.3" y="903.9" font-size="20" text-anchor="middle">10<tspan font-size="13" dy="-6.3">1</tspan></text>
<text x="747.6" y="903.9" font-size="20" text-anchor="middle">10<tspan font-size="13" dy="-6.3">2</tspan></text>
<text x="822.9" y="903.9" font-size="20" text-anchor="middle">10<tspan font-size="13" dy="-6.3">3</tspan></text>
<text x="898.2" y="903.9" font-size="20" text-anchor="middle">10<tspan font-size="13" dy="-6.3">4</tspan></text>
<path d="M601.47 866.2H603.17V866.2H604.87V866.2H606.57V866.19H608.27V866.2H609.97V866.2H611.67V866.2H613.37V866.12H615.07V866.2H616.77V866.2H618.47V866.2H620.17V866.2H621.87V866.2H623.57V866.2H625.27V866.2H626.97V866.2H628.67V866.2H630.37V866.2H632.07V866.2H633.77V866.2H635.47V866.2H637.17V866.16H638.87V866.2H640.57V866.2H642.27V866.2H643.97V866.2H645.67V866.2H647.37V866.2H649.07V866.2H650.77V866.2H652.47V866.2H654.17V866.2H655.87V866.1H657.57V866.2H659.27V865.08H660.97V864.33H662.67V861.78H664.37V858.79H666.07V856.85H667.77V853.98H669.47V850.87H671.17V847.06H672.87V843.92H674.57V837.34H676.27V832.17H677.97V823.93H679.67V816.86H681.37V809.42H683.07V801.6H684.77V789.8H686.47V777.31H688.17V767.47H689.87V763.71H691.57V751.9H693.27V745.5H694.97V743.53H696.67V735.07H698.37V727.46H700.07V724.98H701.77V719.27H703.47V711.91H705.17V710.39H706.87V710.97H708.57V697.54H710.27V700.75H711.97V714.44H713.67V708.3H715.37V714.74H717.07V728.76H718.77V733.4H720.47V728.76H722.17V727.09H723.87V742.93H725.57V752.24H727.27V754.52H728.97V770.42H730.67V774.96H732.37V783.38H734.07V787.92H735.77V795.48H737.47V805.99H739.17V812.62H740.87V816.57H742.57V819.49H744.27V823.23H745.97V826.59H747.67V833.41H749.37V835.1H751.07V837.93H752.77V843.87H754.47V845.9H756.17V846.38H757.87V848.35H759.57V849.02H761.27V850.85H762.97V853.03H764.67V854.67H766.37V855.55H768.07V857.2H769.77V857.7H771.47V858.33H773.17V858.72H774.87V860.15H776.57V860.9H778.27V861.87H779.97V863.02H781.67V863.51H783.37V864.64H785.07V865.57H786.77V865.66H788.47V866.2H790.17V865.55H791.87V866.19H793.57V866.11H795.27V866.2H796.97V866.2H798.67V866H800.37V866.2H802.07V866.2H803.77V866.2H805.47V866.2H807.17V866.02H808.87V866.2H810.57V866.17H812.27V866.11H813.97V866.2H815.67V866.2H817.37V866.2H819.07V866.2H820.77V866.2H822.47V866.2H824.17V866.2H825.87V866.15H827.57V865.83H829.27V866.2H830.97V866.2H832.67V866.1H834.37V866.02H836.07V866.2H837.77V866.2H839.47V865.88H841.17V866.2H842.87V866.2H844.57V866.2H846.27V866.2H847.97V866.2H849.67V866.2H851.37V866.2H853.07V866.2H854.77V866.2H856.47V866.2H858.17V866.2H859.87V866.19H861.57V866.2H863.27V866.2H864.97V866.2H866.67V866.2H868.37V866.2H870.07V866.12H871.77V866.2H873.47V866.2H875.17V866.2H876.87V866.2H878.57V865.91H880.27V866.2H881.97V865.96H883.67V866.2H885.37V866.2H887.07V866.2H888.77V866.2H890.47V866.2H892.17V866.2H893.87V866.2" fill="none" stroke="#000" stroke-width="3.6" stroke-linejoin="round" stroke-dasharray="11.5 6.3"/>
<path d="M681.28 866.2H682.78V866.2H684.28V865.96H685.78V866.2H687.28V865.89H688.78V865.45H690.28V865.45H691.78V864.82H693.28V864.76H694.78V864H696.28V863.56H697.78V862.85H699.28V863.58H700.78V863.02H702.28V863.46H703.78V863.36H705.28V862.86H706.78V863.71H708.28V862.79H709.78V861.51H711.28V861.08H712.78V860.52H714.28V858.71H715.78V857.5H717.28V856.57H718.78V853.47H720.28V850.77H721.78V848.45H723.28V846.59H724.78V846.48H726.28V845.1H727.78V843.23H729.28V839.44H730.78V839.27H732.28V832.54H733.78V826.33H735.28V829.61H736.78V833.7H738.28V829.66H739.78V820.84H741.28V818.26H742.78V826.5H744.28V820.54H745.78V815.58H747.28V808.61H748.78V804.48H750.28V799.53H751.78V793.1H753.28V792.99H754.78V799.86H756.28V793.19H757.78V787.72H759.28V785.42H760.78V780.21H762.28V773.26H763.78V768.43H765.28V762.79H766.78V750.91H768.28V747.98H769.78V748.64H771.28V740.75H772.78V726.66H774.28V727.33H775.78V714.27H777.28V725.79H778.78V727.14H780.28V720.17H781.78V713.39H783.28V704.34H784.78V720.01H786.28V726.37H787.78V729.58H789.28V721.47H790.78V721.33H792.28V732.61H793.78V730.64H795.28V738.02H796.78V743.94H798.28V749.82H799.78V758.16H801.28V754.94H802.78V755.13H804.28V762.97H805.78V769.95H807.28V783.02H808.78V785.73H810.28V790.8H811.78V791.74H813.28V787.2H814.78V787.53H816.28V783.07H817.78V786.87H819.28V798.34H820.78V806.02H822.28V812.5H823.78V806.09H825.28V797.1H826.78V801.31H828.28V802.67H829.78V800.34H831.28V802.66H832.78V802.42H834.28V806.94H835.78V806.09H837.28V812.74H838.78V812.67H840.28V822.2H841.78V822.48H843.28V817.95H844.78V815.83H846.28V814.61H847.78V817.07H849.28V814.21H850.78V808.12H852.28V812.17H853.78V822.3H855.28V819.26H856.78V813.11H858.28V810.77H859.78V809.81H861.28V811.77H862.78V811.06H864.28V817.93H865.78V823.5H867.28V828.52H868.78V831.93H870.28V832.3H871.78V831.09H873.28V836H874.78V842.66H876.28V847.08H877.78V850.94H879.28V853.66H880.78V853.93H882.28V854.22H883.78V856.11H885.28V858.13H886.78V860.22H888.28V862.15H889.78V863.53H891.28V864.76H892.78V865.84H894.28V866.18" fill="none" stroke="#000" stroke-width="3.4" stroke-linejoin="round" stroke-linecap="round"/>
<text x="836.4" y="694.5" font-size="39.7">18</text>
<path d="M226 945.2H530.8M226 1159.6H530.8" fill="none" stroke="#000" stroke-width="5.7"/>
<path d="M228.6 945.2V1159.6M528.2 945.2V1159.6" fill="none" stroke="#000" stroke-width="5.2"/>
<path d="M214.3 944.3h13M221.3 957.77h6M221.3 971.24h6M221.3 984.71h6M214.3 998.17h13M221.3 1011.64h6M221.3 1025.11h6M221.3 1038.58h6M214.3 1052.05h13M221.3 1065.52h6M221.3 1078.99h6M221.3 1092.46h6M214.3 1105.92h13M221.3 1119.39h6M221.3 1132.86h6M221.3 1146.33h6M214.3 1159.8h13" stroke="#000" stroke-width="2.2" fill="none"/>
<text x="210.8" y="954.2" font-size="20" text-anchor="end">100</text>
<text x="210.8" y="1008.07" font-size="20" text-anchor="end">75</text>
<text x="210.8" y="1061.95" font-size="20" text-anchor="end">50</text>
<text x="210.8" y="1115.83" font-size="20" text-anchor="end">25</text>
<text x="210.8" y="1169.7" font-size="20" text-anchor="end">0</text>
<path d="M227 1161.8v12.2M249.67 1161.8v4.6M262.93 1161.8v4.6M272.34 1161.8v4.6M279.63 1161.8v4.6" stroke="#000" stroke-width="2.1" fill="none"/>
<path d="M285.59 1161.8v4.6M290.64 1161.8v4.6M295 1161.8v4.6M298.85 1161.8v4.6M302.3 1161.8v12.2M324.97 1161.8v4.6M338.23 1161.8v4.6M347.64 1161.8v4.6M354.93 1161.8v4.6M360.89 1161.8v4.6M365.94 1161.8v4.6M370.3 1161.8v4.6M374.15 1161.8v4.6M377.6 1161.8v12.2M400.27 1161.8v4.6M413.53 1161.8v4.6M422.94 1161.8v4.6M430.23 1161.8v4.6M436.19 1161.8v4.6M441.24 1161.8v4.6M445.6 1161.8v4.6M449.45 1161.8v4.6M452.9 1161.8v12.2M475.57 1161.8v4.6M488.83 1161.8v4.6M498.24 1161.8v4.6M505.53 1161.8v4.6M511.49 1161.8v4.6M516.54 1161.8v4.6M520.9 1161.8v4.6M524.75 1161.8v4.6M528.2 1161.8v12.2" stroke="#0a2a66" stroke-width="2.3" fill="none"/>
<text x="227.5" y="1197.3" font-size="20" text-anchor="middle">10<tspan font-size="13" dy="-6.3">0</tspan></text>
<text x="302.8" y="1197.3" font-size="20" text-anchor="middle">10<tspan font-size="13" dy="-6.3">1</tspan></text>
<text x="378.1" y="1197.3" font-size="20" text-anchor="middle">10<tspan font-size="13" dy="-6.3">2</tspan></text>
<text x="453.4" y="1197.3" font-size="20" text-anchor="middle">10<tspan font-size="13" dy="-6.3">3</tspan></text>
<text x="528.7" y="1197.3" font-size="20" text-anchor="middle">10<tspan font-size="13" dy="-6.3">4</tspan></text>
<path d="M231.47 1159.6H233.17V1159.6H234.87V1159.6H236.57V1159.6H238.27V1159.6H239.97V1159.6H241.67V1159.51H243.37V1159.6H245.07V1159.6H246.77V1159.6H248.47V1159.6H250.17V1159.6H251.87V1159.6H253.57V1159.6H255.27V1159.6H256.97V1159.6H258.67V1159.35H260.37V1159.47H262.07V1159.6H263.77V1159.6H265.47V1159.6H267.17V1159.6H268.87V1159.6H270.57V1159.6H272.27V1159.6H273.97V1159.43H275.67V1159.46H277.37V1159.6H279.07V1159.46H280.77V1159.39H282.47V1159.6H284.17V1159.6H285.87V1159.6H287.57V1159.6H289.27V1159.6H290.97V1159.6H292.67V1159.6H294.37V1159.6H296.07V1159.6H297.77V1159.6H299.47V1159.45H301.17V1159.6H302.87V1159.6H304.57V1159.6H306.27V1159.6H307.97V1159.6H309.67V1159.3H311.37V1159.6H313.07V1159.6H314.77V1159.6H316.47V1159.6H318.17V1158.24H319.87V1156.36H321.57V1153.44H323.27V1150.99H324.97V1150.49H326.67V1148.76H328.37V1146.39H330.07V1143.08H331.77V1139.88H333.47V1134.51H335.17V1128H336.87V1121.56H338.57V1115.5H340.27V1108.87H341.97V1102.37H343.67V1092.85H345.37V1086.34H347.07V1076.14H348.77V1064.5H350.47V1054.8H352.17V1046.79H353.87V1036.49H355.57V1028.1H357.27V1022.53H358.97V1010.53H360.67V1004.95H362.37V996.02H364.07V986.79H365.77V997.19H367.47V1003.33H369.17V993.49H370.87V1001.22H372.57V1011.04H374.27V1017.49H375.97V1030.38H377.67V1036.14H379.37V1042.73H381.07V1048.57H382.77V1052.09H384.47V1052.6H386.17V1062.38H387.87V1073.89H389.57V1077.22H391.27V1084.73H392.97V1088.01H394.67V1088.6H396.37V1093.57H398.07V1097.15H399.77V1106.05H401.47V1110.83H403.17V1114.39H404.87V1117.82H406.57V1125.05H408.27V1129.79H409.97V1129.72H411.67V1132.37H413.37V1134.87H415.07V1135.84H416.77V1138.25H418.47V1139.19H420.17V1143.3H421.87V1144.41H423.57V1147.67H425.27V1148.64H426.97V1149.35H428.67V1150.83H430.37V1152.09H432.07V1152.95H433.77V1154.22H435.47V1154.51H437.17V1155.44H438.87V1155.42H440.57V1155.67H442.27V1155.17H443.97V1154.95H445.67V1154.76H447.37V1154.82H449.07V1154.32H450.77V1154.87H452.47V1155.47H454.17V1156.08H455.87V1157.1H457.57V1157.82H459.27V1158.11H460.97V1158.53H462.67V1158.78H464.37V1158.98H466.07V1159.6H467.77V1159.34H469.47V1159.6H471.17V1159.47H472.87V1159.6H474.57V1159.6H476.27V1159.6H477.97V1159.6H479.67V1159.6H481.37V1159.48H483.07V1159.6H484.77V1159.6H486.47V1159.6H488.17V1159.6H489.87V1159.6H491.57V1159.6H493.27V1159.6H494.97V1159.6H496.67V1159.6H498.37V1159.6H500.07V1159.6H501.77V1159.6H503.47V1159.6H505.17V1159.37H506.87V1159.6H508.57V1159.6H510.27V1159.6H511.97V1159.6H513.67V1159.6H515.37V1159.52H517.07V1159.6H518.77V1159.6H520.47V1159.6H522.17V1159.6H523.87V1159.6" fill="none" stroke="#000" stroke-width="3.6" stroke-linejoin="round" stroke-dasharray="11.5 6.3"/>
<path d="M369.52 1159.6H371.02V1159.3H372.52V1157.72H374.02V1155.57H375.52V1154.55H377.02V1153.14H378.52V1152.31H380.02V1151.94H381.52V1150.48H383.02V1147.65H384.52V1147.28H386.02V1149.42H387.52V1149.62H389.02V1146.92H390.52V1143.51H392.02V1141.76H393.52V1140.68H395.02V1138.9H396.52V1134.11H398.02V1130.18H399.52V1134.07H401.02V1133.67H402.52V1128.99H404.02V1122.62H405.52V1116.86H407.02V1107.5H408.52V1104.45H410.02V1102.75H411.52V1094.09H413.02V1090.53H414.52V1085.72H416.02V1089.48H417.52V1091.74H419.02V1076.29H420.52V1077.45H422.02V1073.77H423.52V1067.43H425.02V1063.35H426.52V1060.23H428.02V1058.5H429.52V1050.47H431.02V1041.79H432.52V1027.41H434.02V1037.57H435.52V1039.17H437.02V1032.88H438.52V1022.01H440.02V1000.5H441.52V996.95H443.02V995.63H444.52V996.59H446.02V1017.41H447.52V1016.88H449.02V1008.19H450.52V995.14H452.02V998.27H453.52V992.38H455.02V1002.79H456.52V1023.08H458.02V1033.76H459.52V1034.49H461.02V1038.94H462.52V1034.86H464.02V1049.17H465.52V1052.1H467.02V1060.21H468.52V1067.98H470.02V1073.99H471.52V1075.21H473.02V1087.85H474.52V1089.81H476.02V1093.19H477.52V1101.44H479.02V1101.79H480.52V1115.55H482.02V1122.64H483.52V1128.13H485.02V1132.34H486.52V1137.79H488.02V1137.31H489.52V1136.34H491.02V1140.1H492.52V1143.02H494.02V1145.09H495.52V1146.81H497.02V1148.54H498.52V1149.39H500.02V1149.88H501.52V1150.6H503.02V1152.33H504.52V1152.92H506.02V1154.57H507.52V1155.83H509.02V1156.69H510.52V1156.34H512.02V1155.65H513.52V1156.21H515.02V1156.09H516.52V1156.02H518.02V1156.12H519.52V1156.93H521.02V1157.23H522.52V1157.54H524.02V1157.61" fill="none" stroke="#000" stroke-width="3.4" stroke-linejoin="round" stroke-linecap="round"/>
<text x="461.7" y="989.6" font-size="39.7">48</text>
<path d="M595.2 945.1H900M595.2 1159.5H900" fill="none" stroke="#000" stroke-width="5.7"/>
<path d="M597.8 945.1V1159.5M897.4 945.1V1159.5" fill="none" stroke="#000" stroke-width="5.2"/>
<path d="M583.5 944.2h13M590.5 957.67h6M590.5 971.14h6M590.5 984.61h6M583.5 998.08h13M590.5 1011.54h6M590.5 1025.01h6M590.5 1038.48h6M583.5 1051.95h13M590.5 1065.42h6M590.5 1078.89h6M590.5 1092.36h6M583.5 1105.83h13M590.5 1119.29h6M590.5 1132.76h6M590.5 1146.23h6M583.5 1159.7h13" stroke="#000" stroke-width="2.2" fill="none"/>
<text x="580" y="954.1" font-size="20" text-anchor="end">100</text>
<text x="580" y="1007.98" font-size="20" text-anchor="end">75</text>
<text x="580" y="1061.85" font-size="20" text-anchor="end">50</text>
<text x="580" y="1115.73" font-size="20" text-anchor="end">25</text>
<text x="580" y="1169.6" font-size="20" text-anchor="end">0</text>
<path d="M596.2 1161.7v12.2M618.87 1161.7v4.6M632.13 1161.7v4.6M641.54 1161.7v4.6M648.83 1161.7v4.6" stroke="#000" stroke-width="2.1" fill="none"/>
<path d="M654.79 1161.7v4.6M659.84 1161.7v4.6M664.2 1161.7v4.6M668.05 1161.7v4.6M671.5 1161.7v12.2M694.17 1161.7v4.6M707.43 1161.7v4.6M716.84 1161.7v4.6M724.13 1161.7v4.6M730.09 1161.7v4.6M735.14 1161.7v4.6M739.5 1161.7v4.6M743.35 1161.7v4.6M746.8 1161.7v12.2M769.47 1161.7v4.6M782.73 1161.7v4.6M792.14 1161.7v4.6M799.43 1161.7v4.6M805.39 1161.7v4.6M810.44 1161.7v4.6M814.8 1161.7v4.6M818.65 1161.7v4.6M822.1 1161.7v12.2M844.77 1161.7v4.6M858.03 1161.7v4.6M867.44 1161.7v4.6M874.73 1161.7v4.6M880.69 1161.7v4.6M885.74 1161.7v4.6M890.1 1161.7v4.6M893.95 1161.7v4.6M897.4 1161.7v12.2" stroke="#0a2a66" stroke-width="2.3" fill="none"/>
<text x="596.7" y="1197.2" font-size="20" text-anchor="middle">10<tspan font-size="13" dy="-6.3">0</tspan></text>
<text x="672" y="1197.2" font-size="20" text-anchor="middle">10<tspan font-size="13" dy="-6.3">1</tspan></text>
<text x="747.3" y="1197.2" font-size="20" text-anchor="middle">10<tspan font-size="13" dy="-6.3">2</tspan></text>
<text x="822.6" y="1197.2" font-size="20" text-anchor="middle">10<tspan font-size="13" dy="-6.3">3</tspan></text>
<text x="897.9" y="1197.2" font-size="20" text-anchor="middle">10<tspan font-size="13" dy="-6.3">4</tspan></text>
<path d="M601.47 1159.5H603.17V1159.5H604.87V1159.4H606.57V1159.5H608.27V1159.5H609.97V1159.5H611.67V1159.5H613.37V1159.5H615.07V1159.5H616.77V1159.5H618.47V1159.31H620.17V1159.21H621.87V1159.01H623.57V1159.18H625.27V1158.46H626.97V1159.5H628.67V1159.14H630.37V1159.08H632.07V1159.25H633.77V1158.86H635.47V1158.99H637.17V1159.09H638.87V1158.39H640.57V1159.27H642.27V1158.77H643.97V1158.86H645.67V1158.35H647.37V1158.42H649.07V1159.03H650.77V1158.35H652.47V1158.34H654.17V1158.54H655.87V1158.77H657.57V1157.62H659.27V1158.69H660.97V1158.3H662.67V1158.44H664.37V1157.83H666.07V1158.17H667.77V1158.51H669.47V1157.96H671.17V1157.54H672.87V1157H674.57V1156.37H676.27V1156.2H677.97V1155.41H679.67V1154.58H681.37V1154.36H683.07V1151.95H684.77V1150.66H686.47V1151.11H688.17V1148.55H689.87V1147.87H691.57V1145.38H693.27V1143.61H694.97V1141.56H696.67V1137.37H698.37V1133.93H700.07V1130.17H701.77V1125.76H703.47V1121.5H705.17V1115.94H706.87V1106.05H708.57V1099.48H710.27V1094.65H711.97V1087.59H713.67V1079.55H715.37V1066.89H717.07V1060.11H718.77V1049.34H720.47V1035.49H722.17V1028H723.87V1012.91H725.57V1007.88H727.27V996.92H728.97V991.93H730.67V1000.69H732.37V1006.88H734.07V1005.12H735.77V1007.66H737.47V1010.39H739.17V1019.65H740.87V1020.67H742.57V1019.72H744.27V1030.54H745.97V1044.2H747.67V1051.79H749.37V1059.98H751.07V1062.35H752.77V1076.29H754.47V1084.68H756.17V1083.36H757.87V1083.81H759.57V1090.74H761.27V1094.95H762.97V1100.19H764.67V1109.48H766.37V1114.4H768.07V1120.02H769.77V1120.12H771.47V1124.83H773.17V1127.53H774.87V1129.61H776.57V1133.1H778.27V1136.22H779.97V1139.68H781.67V1142.02H783.37V1143.02H785.07V1143.97H786.77V1144.56H788.47V1145.46H790.17V1146.68H791.87V1147.52H793.57V1147.9H795.27V1149.24H796.97V1150.31H798.67V1150.31H800.37V1150.32H802.07V1151.27H803.77V1151.03H805.47V1149.8H807.17V1148.94H808.87V1147.03H810.57V1146.86H812.27V1145.79H813.97V1145.39H815.67V1145.33H817.37V1144.9H819.07V1143.87H820.77V1144.2H822.47V1146.77H824.17V1148.18H825.87V1150.75H827.57V1152.68H829.27V1153.32H830.97V1154.29H832.67V1155.24H834.37V1156.26H836.07V1156.32H837.77V1157.09H839.47V1157.08H841.17V1157.2H842.87V1157.94H844.57V1158.46H846.27V1157.98H847.97V1157.55H849.67V1158.47H851.37V1158.21H853.07V1158.34H854.77V1158.08H856.47V1158.4H858.17V1158.76H859.87V1158.14H861.57V1158.57H863.27V1158.51H864.97V1158.19H866.67V1158.53H868.37V1158.68H870.07V1158.31H871.77V1158.92H873.47V1158.31H875.17V1158.99H876.87V1158.88H878.57V1158.81H880.27V1158.56H881.97V1158.59H883.67V1158.23H885.37V1158.88H887.07V1158.89H888.77V1159.12H890.47V1159.28H892.17V1159.09H893.87V1158.98" fill="none" stroke="#000" stroke-width="3.6" stroke-linejoin="round" stroke-dasharray="11.5 6.3"/>
<path d="M737.36 1158.91H738.86V1157.99H740.36V1156.18H741.86V1154.53H743.36V1152.11H744.86V1152.04H746.36V1149.56H747.86V1149.01H749.36V1147.48H750.86V1148.9H752.36V1150.02H753.86V1147.22H755.36V1145.11H756.86V1141.89H758.36V1139.1H759.86V1136.62H761.36V1137.68H762.86V1139.38H764.36V1137.35H765.86V1134.26H767.36V1129.51H768.86V1127.92H770.36V1125.61H771.86V1123.24H773.36V1121.7H774.86V1115.54H776.36V1111.18H777.86V1104.21H779.36V1100.23H780.86V1104.32H782.36V1107.87H783.86V1105.12H785.36V1102.61H786.86V1099.25H788.36V1093.91H789.86V1090.44H791.36V1079.9H792.86V1072.72H794.36V1067.4H795.86V1060.22H797.36V1050.08H798.86V1036.1H800.36V1023.99H801.86V1028.52H803.36V1021.51H804.86V1028.85H806.36V1038.54H807.86V1038.03H809.36V1019.46H810.86V1023.14H812.36V1006.02H813.86V1016.63H815.36V1007.27H816.86V991.45H818.36V1003.72H819.86V1007.08H821.36V1012.05H822.86V1011.33H824.36V1009.64H825.86V1010.91H827.36V1004.51H828.86V998.08H830.36V1010.08H831.86V1012.19H833.36V1019.32H834.86V1024.99H836.36V1031.19H837.86V1028.92H839.36V1044.63H840.86V1051.17H842.36V1063.51H843.86V1070.56H845.36V1077.5H846.86V1087.24H848.36V1098.6H849.86V1109.02H851.36V1112.09H852.86V1117.27H854.36V1122.86H855.86V1127.85H857.36V1131.93H858.86V1136.23H860.36V1138.57H861.86V1141.91H863.36V1144.59H864.86V1147.26H866.36V1149H867.86V1149.9H869.36V1150.02H870.86V1150.21H872.36V1151.96H873.86V1153.23H875.36V1155.32H876.86V1155.24H878.36V1156.36H879.86V1156.53H881.36V1158.03H882.86V1158.66H884.36V1157.89H885.86V1158.12H887.36V1158.23H888.86V1158.14H890.36V1158.79H891.86V1158.97H893.36V1158.87" fill="none" stroke="#000" stroke-width="3.4" stroke-linejoin="round" stroke-linecap="round"/>
<text x="833.9" y="990" font-size="39.7">52</text>
<line x1="447.2" y1="101.5" x2="447.2" y2="1153" stroke="#000" stroke-width="5.4" stroke-dasharray="4.7 5.15"/>
<line x1="817.3" y1="101.5" x2="817.3" y2="1153" stroke="#000" stroke-width="5.4" stroke-dasharray="4.7 5.15"/>
<text x="928.3" y="230.5" font-size="39.7">CD8<tspan font-size="27" dy="-13.7">+</tspan></text>
<text x="928.3" y="501" font-size="39.7">CD4<tspan font-size="27" dy="-13.7">+</tspan></text>
<text x="926.8" y="782.5" font-size="39.7">CD56<tspan font-size="27" dy="-13.7">+</tspan></text>
<text x="926.5" y="1074.5" font-size="39.7">pT<tspan font-size="26.5" dx="-3.6" dy="10.6">eff</tspan></text>
<text transform="translate(170.4,1157) rotate(-90)" font-size="38.6">number of cells</text>
<path d="M158 865.5V743" stroke="#000" stroke-width="3.4" stroke-linecap="round" fill="none"/>
<path d="M158 726.5L167.9 746H148.1Z" fill="#000"/>
<text x="291.7" y="1243.8" font-size="39.7">Annexin V</text>
<path d="M499.5 1228H622" stroke="#000" stroke-width="3.4" stroke-linecap="round" fill="none"/>
<path d="M639.5 1228L620 1237.9V1218.1Z" fill="#000"/>
<rect x="275.9" y="1791.7" width="65.7" height="278.8" fill="#808080"/>
<rect x="360.1" y="1934.3" width="65.7" height="136.2" fill="#000"/>
<rect x="481" y="1802" width="65.6" height="268.5" fill="#808080"/>
<rect x="565.7" y="1970.5" width="65.6" height="100" fill="#000"/>
<rect x="681.3" y="1656.4" width="66.1" height="414.1" fill="#808080"/>
<rect x="765.9" y="1891.9" width="65.1" height="178.6" fill="#000"/>
<rect x="882" y="1629.1" width="66.1" height="441.4" fill="#808080"/>
<rect x="969.2" y="1637.6" width="66.1" height="432.9" fill="#000"/>
<line x1="453.8" y1="1368.1" x2="453.8" y2="2069" stroke="#000" stroke-width="3.5" stroke-linecap="round" stroke-dasharray="9.9 13.21"/>
<line x1="655.3" y1="1368.1" x2="655.3" y2="2069" stroke="#000" stroke-width="3.5" stroke-linecap="round" stroke-dasharray="9.9 13.21"/>
<line x1="853.4" y1="1368.1" x2="853.4" y2="2069" stroke="#000" stroke-width="3.5" stroke-linecap="round" stroke-dasharray="9.9 13.21"/>
<path d="M225.7 1367V2071.5" stroke="#000" stroke-width="4.9" stroke-linecap="round" fill="none"/>
<path d="M203 2070.5H1086.5" stroke="#000" stroke-width="5" stroke-linecap="round" fill="none"/>
<path d="M203.5 1913.9H225.7" stroke="#000" stroke-width="5" stroke-linecap="round" fill="none"/>
<path d="M203.5 1757.3H225.7" stroke="#000" stroke-width="5" stroke-linecap="round" fill="none"/>
<path d="M203.5 1600.7H225.7" stroke="#000" stroke-width="5" stroke-linecap="round" fill="none"/>
<path d="M203.5 1444.1H225.7" stroke="#000" stroke-width="5" stroke-linecap="round" fill="none"/>
<text x="190.2" y="2083.6" font-size="40" text-anchor="end">0</text>
<text x="195.2" y="1929" font-size="40" text-anchor="end">20</text>
<text x="195.3" y="1771.9" font-size="40" text-anchor="end">40</text>
<text x="195.3" y="1621.4" font-size="40" text-anchor="end">60</text>
<text x="190" y="1457.4" font-size="40" text-anchor="end">80</text>
<text transform="translate(117.3,1883.5) rotate(-90)" font-size="39.6">apoptotic cells (%)</text>
<circle cx="298" cy="1720.8" r="10.75"/>
<circle cx="314.3" cy="1720.8" r="10.75"/>
<circle cx="308.8" cy="1756.6" r="10.75"/>
<circle cx="308.8" cy="1840.6" r="10.75"/>
<circle cx="308.8" cy="1915.7" r="10.75"/>
<circle cx="385.8" cy="1838.9" r="10.75"/>
<circle cx="403" cy="1838.9" r="10.75"/>
<circle cx="515.8" cy="1668.6" r="10.75"/>
<circle cx="515.8" cy="1707.8" r="10.75"/>
<circle cx="515.8" cy="1773.7" r="10.75"/>
<circle cx="515.8" cy="1787.7" r="10.75"/>
<circle cx="515.8" cy="1797.8" r="10.75"/>
<circle cx="515.8" cy="1822" r="10.75"/>
<circle cx="515.8" cy="1830.9" r="10.75"/>
<circle cx="515.8" cy="1851.9" r="10.75"/>
<circle cx="515.8" cy="1861.5" r="10.75"/>
<circle cx="515.8" cy="1872.9" r="10.75"/>
<circle cx="515.8" cy="1885" r="10.75"/>
<circle cx="597.55" cy="1831.3" r="10.75"/>
<circle cx="597.55" cy="1888.3" r="10.75"/>
<circle cx="597.55" cy="1906.5" r="10.75"/>
<circle cx="597.55" cy="1939.4" r="10.75"/>
<circle cx="714.2" cy="1517.5" r="10.75"/>
<circle cx="714.2" cy="1628.5" r="10.75"/>
<circle cx="714.2" cy="1697.4" r="10.75"/>
<circle cx="714.2" cy="1784.6" r="10.75"/>
<circle cx="794.25" cy="1837.5" r="10.75"/>
<circle cx="806.7" cy="1834.6" r="10.75"/>
<circle cx="900.2" cy="1395.7" r="10.75"/>
<circle cx="914.8" cy="1395.7" r="10.75"/>
<circle cx="916.2" cy="1694.2" r="10.75"/>
<circle cx="916.5" cy="1796" r="10.75"/>
<circle cx="916.5" cy="1867.5" r="10.75"/>
<circle cx="1003" cy="1409.8" r="10.75"/>
<circle cx="1003" cy="1496.9" r="10.75"/>
<circle cx="395.3" cy="1959.5" r="9.4" fill="#000" stroke="#fff" stroke-width="3.7"/>
<circle cx="396" cy="1992.4" r="9.4" fill="#000" stroke="#fff" stroke-width="3.7"/>
<circle cx="396" cy="2022.3" r="9.4" fill="#000" stroke="#fff" stroke-width="3.7"/>
<circle cx="597.55" cy="2003.5" r="9.4" fill="#000" stroke="#fff" stroke-width="3.7"/>
<circle cx="591.1" cy="2011.4" r="9.4" fill="#000" stroke="#fff" stroke-width="3.7"/>
<circle cx="606.3" cy="2011.7" r="9.4" fill="#000" stroke="#fff" stroke-width="3.7"/>
<circle cx="597.55" cy="2035.6" r="9.4" fill="#000" stroke="#fff" stroke-width="3.7"/>
<circle cx="597.55" cy="1978.5" r="9.4" fill="#000" stroke="#fff" stroke-width="3.7"/>
<circle cx="799.25" cy="1927.9" r="9.4" fill="#000" stroke="#fff" stroke-width="3.7"/>
<circle cx="799.25" cy="1957.9" r="9.4" fill="#000" stroke="#fff" stroke-width="3.7"/>
<circle cx="1003" cy="1659" r="9.4" fill="#000" stroke="#fff" stroke-width="3.7"/>
<circle cx="1003" cy="1780.7" r="9.4" fill="#000" stroke="#fff" stroke-width="3.7"/>
<circle cx="1003" cy="1829.1" r="9.4" fill="#000" stroke="#fff" stroke-width="3.7"/>
<path d="M342.5 1658.7L342.5 1650.25M342.5 1658.7L350.54 1656.09M342.5 1658.7L347.47 1665.54M342.5 1658.7L337.53 1665.54M342.5 1658.7L334.46 1656.09" stroke="#000" stroke-width="3.9" fill="none"/>
<path d="M363.1 1658.7L363.1 1650.25M363.1 1658.7L371.14 1656.09M363.1 1658.7L368.07 1665.54M363.1 1658.7L358.13 1665.54M363.1 1658.7L355.06 1656.09" stroke="#000" stroke-width="3.9" fill="none"/>
<line x1="311.2" y1="1685.3" x2="395.9" y2="1685.3" stroke="#000" stroke-width="2.9"/>
<path d="M527.2 1609.6L527.2 1601.15M527.2 1609.6L535.24 1606.99M527.2 1609.6L532.17 1616.44M527.2 1609.6L522.23 1616.44M527.2 1609.6L519.16 1606.99" stroke="#000" stroke-width="3.9" fill="none"/>
<path d="M547.8 1609.6L547.8 1601.15M547.8 1609.6L555.84 1606.99M547.8 1609.6L552.77 1616.44M547.8 1609.6L542.83 1616.44M547.8 1609.6L539.76 1606.99" stroke="#000" stroke-width="3.9" fill="none"/>
<path d="M568.4 1609.6L568.4 1601.15M568.4 1609.6L576.44 1606.99M568.4 1609.6L573.37 1616.44M568.4 1609.6L563.43 1616.44M568.4 1609.6L560.36 1606.99" stroke="#000" stroke-width="3.9" fill="none"/>
<path d="M589 1609.6L589 1601.15M589 1609.6L597.04 1606.99M589 1609.6L593.97 1616.44M589 1609.6L584.03 1616.44M589 1609.6L580.96 1606.99" stroke="#000" stroke-width="3.9" fill="none"/>
<line x1="515.1" y1="1634.3" x2="600" y2="1634.3" stroke="#000" stroke-width="2.9"/>
<path d="M746.8 1462.5L746.8 1454.05M746.8 1462.5L754.84 1459.89M746.8 1462.5L751.77 1469.34M746.8 1462.5L741.83 1469.34M746.8 1462.5L738.76 1459.89" stroke="#000" stroke-width="3.9" fill="none"/>
<path d="M767.4 1462.5L767.4 1454.05M767.4 1462.5L775.44 1459.89M767.4 1462.5L772.37 1469.34M767.4 1462.5L762.43 1469.34M767.4 1462.5L759.36 1459.89" stroke="#000" stroke-width="3.9" fill="none"/>
<line x1="714.2" y1="1491.1" x2="798.8" y2="1491.1" stroke="#000" stroke-width="2.9"/>
<text x="301.4" y="2133.5" font-size="42.7">CD8<tspan font-size="28.5" dy="-13.2">+</tspan></text>
<text x="510.8" y="2132.4" font-size="42.7">CD4<tspan font-size="28.5" dy="-13.2">+</tspan></text>
<text x="695.2" y="2133.3" font-size="42.7">CD56<tspan font-size="28.5" dy="-13.2">+</tspan></text>
<text x="927.2" y="2131.9" font-size="42.7">pT<tspan font-size="30" dx="-5.4" dy="10.7">eff</tspan></text>
<rect x="1139.3" y="1908.2" width="40.2" height="40" fill="#808080"/>
<rect x="1139.3" y="1978.8" width="40.2" height="40" fill="#000"/>
<text x="1206.6" y="1941.7" font-size="39.7">L23-control</text>
<text x="1204.8" y="2012.8" font-size="40">L23-E3/49K</text>
</svg>
</body></html>
